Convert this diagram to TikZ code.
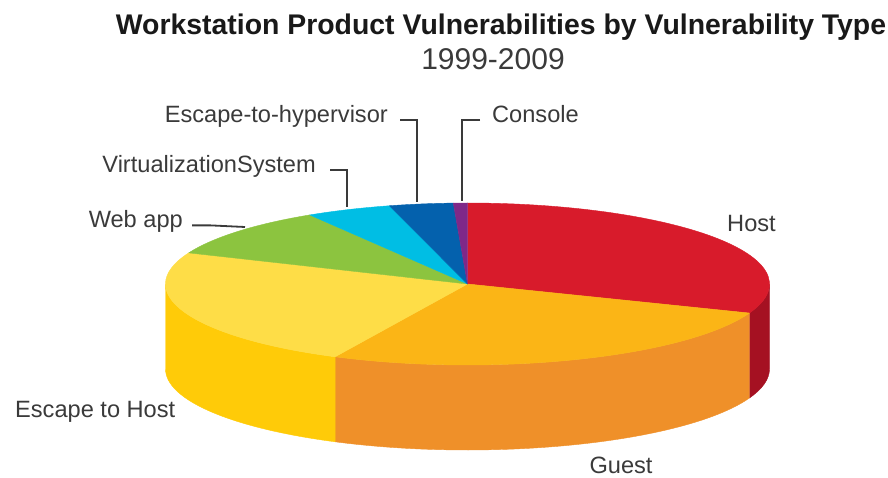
\documentclass[tikz,border=0pt]{standalone}
\usepackage{fontspec}
\setmainfont{Liberation Sans}
\usepackage{tikz}
\usetikzlibrary{calc,positioning}
\usepackage{xcolor}

\definecolor{hosttop}{HTML}{D81B2B}
\definecolor{hostside}{HTML}{A51122}
\definecolor{guesttop}{HTML}{FBB516}
\definecolor{guestside}{HTML}{EF9029}
\definecolor{esctop}{HTML}{FEDD47}
\definecolor{escside}{HTML}{FFCB08}
\definecolor{webtop}{HTML}{8CC43F}
\definecolor{virttop}{HTML}{00BEE4}
\definecolor{hyptop}{HTML}{0461AD}
\definecolor{constop}{HTML}{7F2888}
\definecolor{labgray}{HTML}{3A3A3A}

\begin{document}
\begin{tikzpicture}[
  x=1pt, y=1pt,
  lab/.style={font=\fontsize{23.6}{25}\selectfont, text=labgray, inner sep=0pt},
  lead/.style={draw=labgray, line width=1.8pt},
  slice/.style={line width=0.4pt, line join=round}
]
\useasboundingbox (0,0) rectangle (888,477);
\def\pierx{302}
\def\piery{81}
\def\pied{85}

% title
\node[anchor=base, inner sep=0pt, text=black!90] (title) at (501,442)
  {\fontsize{28.4}{30}\selectfont\bfseries Workstation Product Vulnerabilities by Vulnerability Type};
\node[anchor=base, inner sep=0pt, text=labgray] (years) at (493,407)
  {\fontsize{30}{32}\selectfont 1999-2009};

% pie: sides
\coordinate (c) at (467.5,193);
\path[slice, fill=hostside, draw=hostside] (c) ++({\pierx*cos(-21)},{\piery*sin(-21)})
  arc[start angle=-21, end angle=0, x radius=\pierx pt, y radius=\piery pt] -- ++(0,-\pied)
  arc[start angle=0, end angle=-21, x radius=\pierx pt, y radius=\piery pt] -- cycle;
\path[slice, fill=guestside, draw=guestside] (c) ++({\pierx*cos(-116)},{\piery*sin(-116)})
  arc[start angle=-116, end angle=-21, x radius=\pierx pt, y radius=\piery pt] -- ++(0,-\pied)
  arc[start angle=-21, end angle=-116, x radius=\pierx pt, y radius=\piery pt] -- cycle;
\path[slice, fill=escside, draw=escside] (c) ++({\pierx*cos(-180)},{\piery*sin(-180)})
  arc[start angle=-180, end angle=-116, x radius=\pierx pt, y radius=\piery pt] -- ++(0,-\pied)
  arc[start angle=-116, end angle=-180, x radius=\pierx pt, y radius=\piery pt] -- cycle;

% pie: top
\path[slice, fill=hosttop, draw=hosttop] (c) -- ++({\pierx*cos(-21)},{\piery*sin(-21)})
  arc[start angle=-21, end angle=90, x radius=\pierx pt, y radius=\piery pt] -- cycle;
\path[slice, fill=guesttop, draw=guesttop] (c) -- ++({\pierx*cos(-116)},{\piery*sin(-116)})
  arc[start angle=-116, end angle=-21, x radius=\pierx pt, y radius=\piery pt] -- cycle;
\path[slice, fill=esctop, draw=esctop] (c) -- ++({\pierx*cos(157.4)},{\piery*sin(157.4)})
  arc[start angle=157.4, end angle=244, x radius=\pierx pt, y radius=\piery pt] -- cycle;
\path[slice, fill=webtop, draw=webtop] (c) -- ++({\pierx*cos(121.5)},{\piery*sin(121.5)})
  arc[start angle=121.5, end angle=157.4, x radius=\pierx pt, y radius=\piery pt] -- cycle;
\path[slice, fill=virttop, draw=virttop] (c) -- ++({\pierx*cos(105)},{\piery*sin(105)})
  arc[start angle=105, end angle=121.5, x radius=\pierx pt, y radius=\piery pt] -- cycle;
\path[slice, fill=hyptop, draw=hyptop] (c) -- ++({\pierx*cos(92.7)},{\piery*sin(92.7)})
  arc[start angle=92.7, end angle=105, x radius=\pierx pt, y radius=\piery pt] -- cycle;
\path[slice, fill=constop, draw=constop] (c) -- ++({\pierx*cos(90)},{\piery*sin(90)})
  arc[start angle=90, end angle=92.7, x radius=\pierx pt, y radius=\piery pt] -- cycle;

% labels
\node[lab, anchor=base west] (host) at (727,245) {Host};
\node[lab, anchor=base] (guest) at (621,4) {Guest};
\node[lab, anchor=base west] (esc) at (15,60) {Escape to Host};
\node[lab, anchor=base east] (web) at (183,249) {Web app};
\node[lab, anchor=base east] (virt) at (316,304) {VirtualizationSystem};
\node[lab, anchor=base east] (hyp) at (388,354) {Escape-to-hypervisor};
\node[lab, anchor=base west] (cons) at (492,354) {Console};

% leaders
\coordinate (webend) at (245,250);
\coordinate (virtend) at (347,270);
\coordinate (hypend) at (417,275);
\coordinate (consend) at (462,276);
\draw[lead] ([xshift=9pt]web.mid east) -- ++(18,0) -- (webend);
\draw[lead] ([xshift=14pt]virt.mid east) -| (virtend);
\draw[lead] ([xshift=12pt]hyp.mid east) -| (hypend);
\draw[lead] ([xshift=-12pt]cons.mid west) -| (consend);
\end{tikzpicture}
\end{document}
